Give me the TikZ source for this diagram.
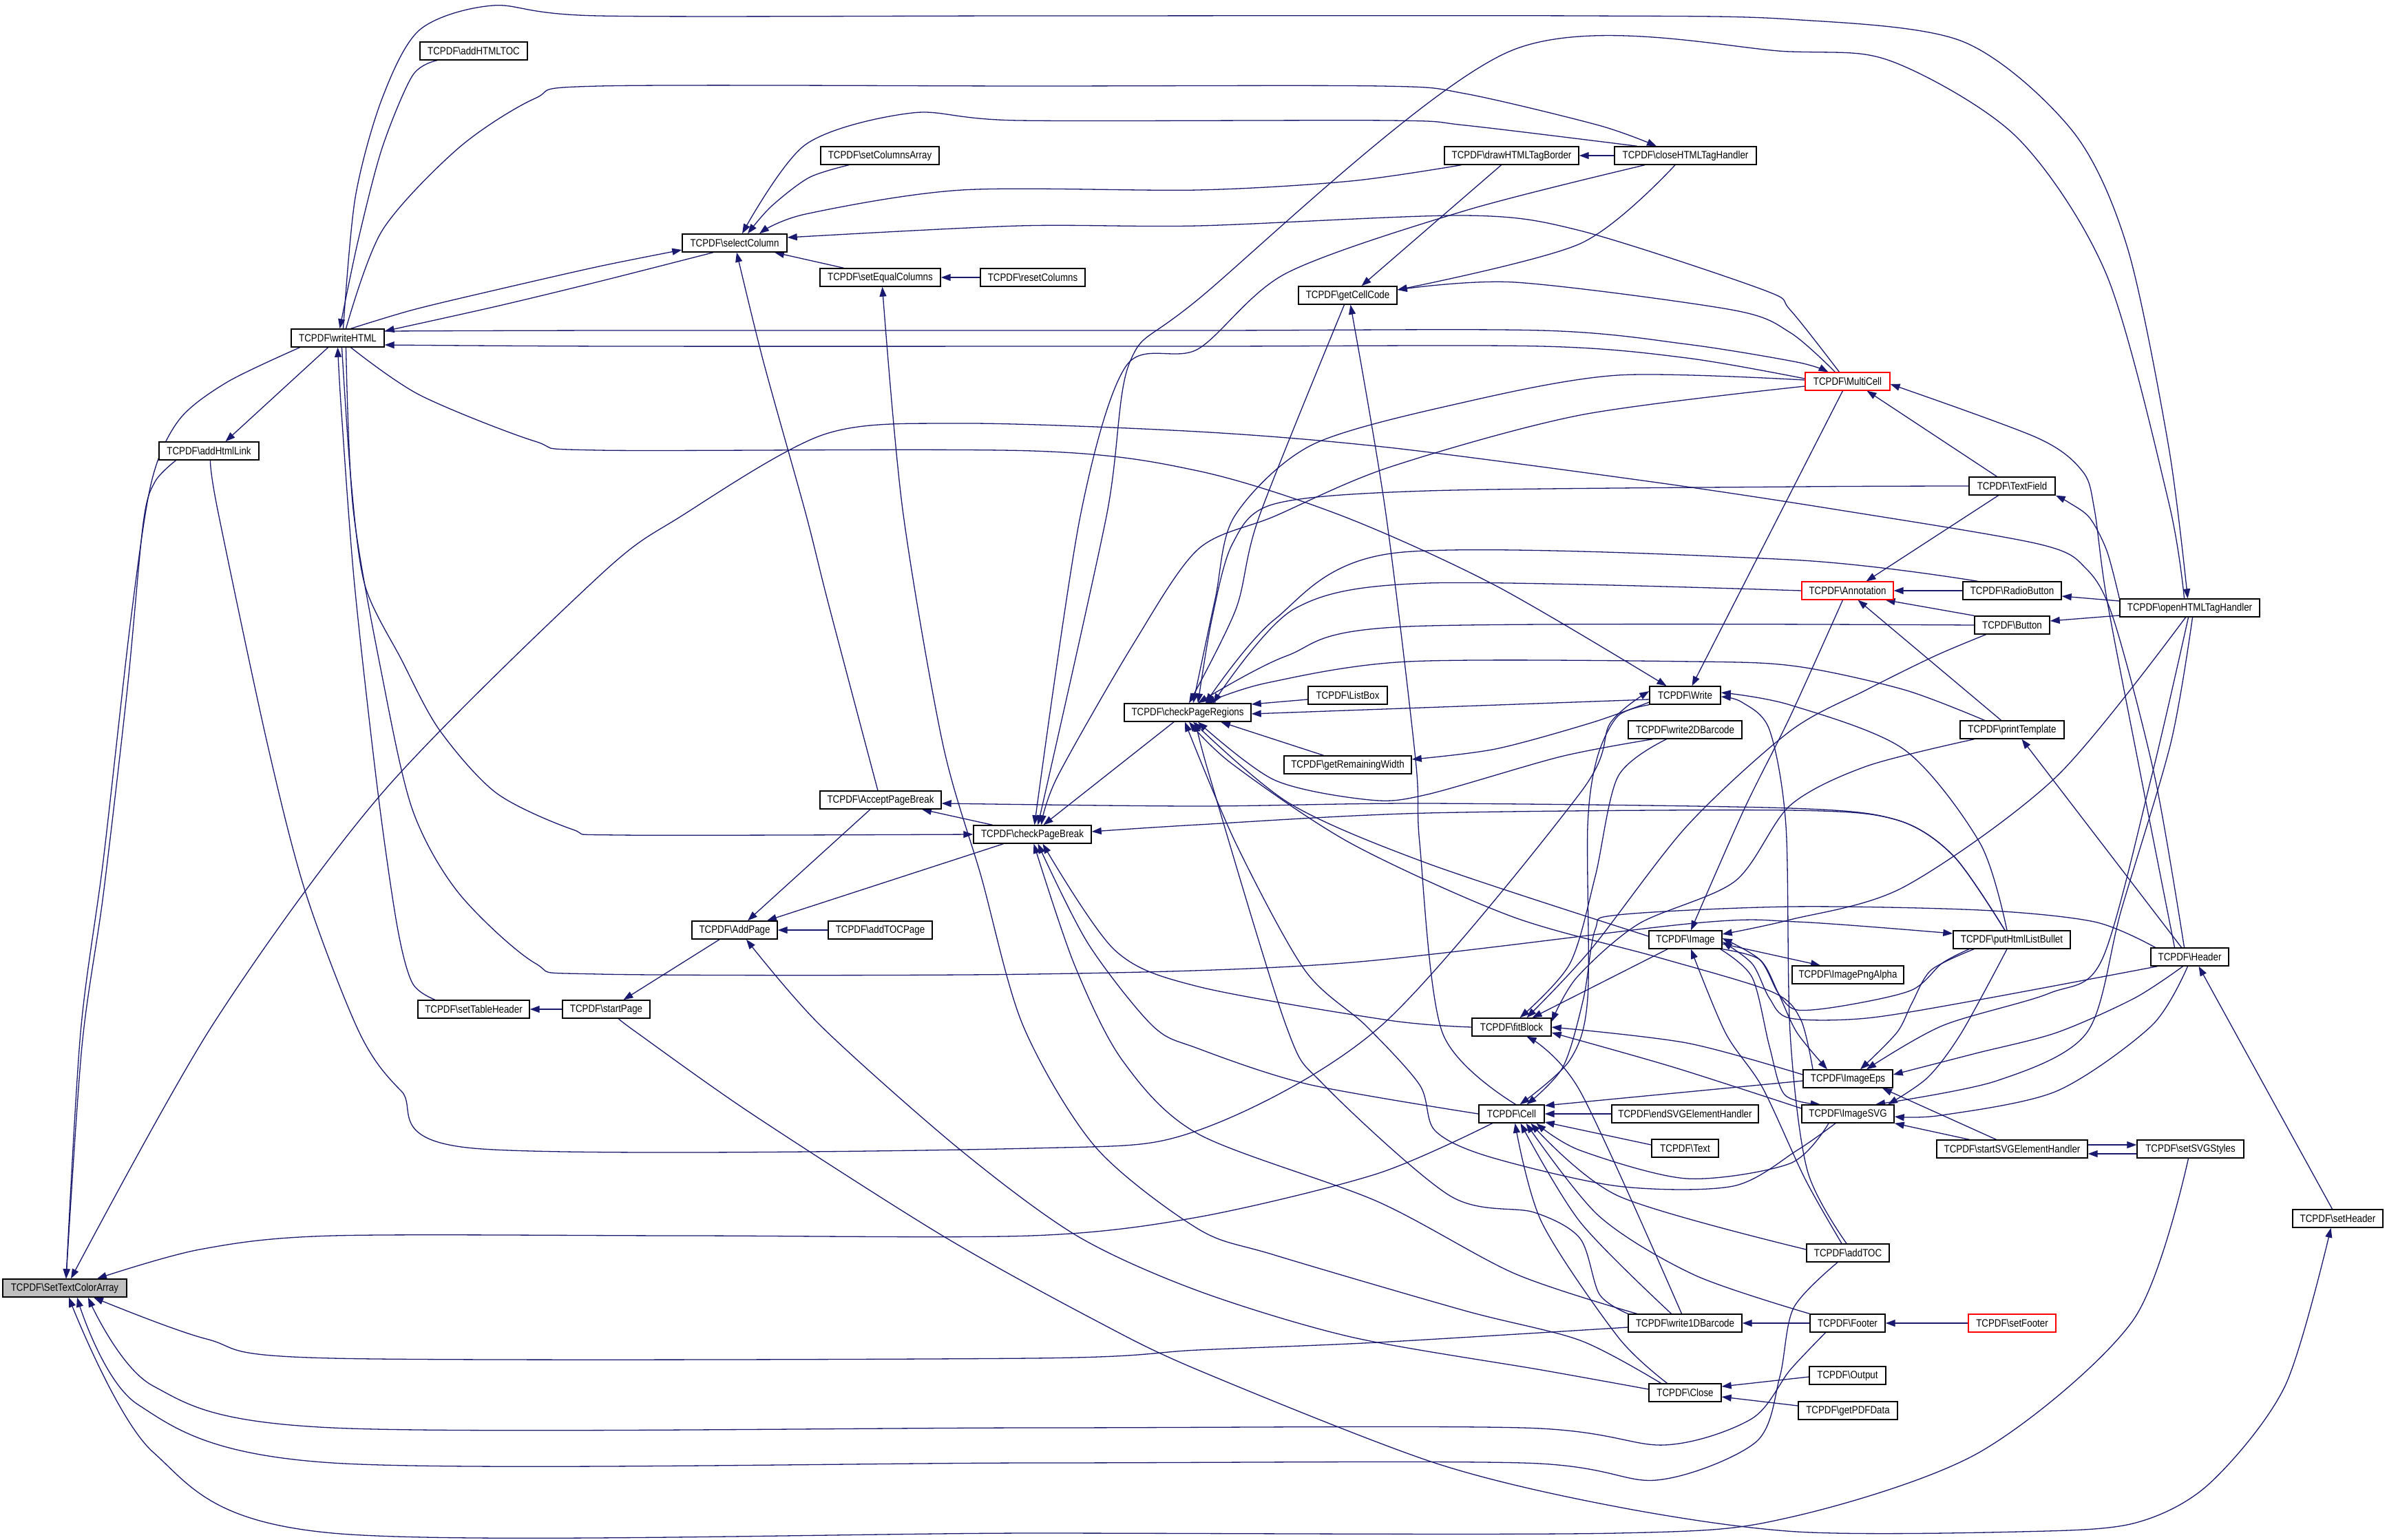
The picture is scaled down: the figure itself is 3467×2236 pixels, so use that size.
\documentclass[tikz,border=0pt]{standalone}
\usepackage{fontspec}
\setmainfont{Liberation Sans}[FakeStretch=0.86]
\usetikzlibrary{arrows.meta}
\definecolor{dblue}{HTML}{191970}
\definecolor{nodegray}{HTML}{BFBFBF}
\pgfdeclarelayer{back}
\pgfdeclarelayer{bg}
\pgfsetlayers{back,bg,main}
\newcommand\tcp[1]{TCPDF\textbackslash #1}
\begin{document}
\begin{tikzpicture}[x=1pt,y=-1pt,
 fn/.style={draw=black, line width=1.4pt, fill=white, minimum height=26pt, inner sep=0pt, font=\fontsize{15.5}{18}\selectfont},
 rn/.style={fn, draw=red, line width=1.1pt},
 e/.style={draw=dblue, line width=1.3pt, line join=round, -{Triangle[length=14pt,width=10pt]}}]
\useasboundingbox (0,0) rectangle (3467,2236);
\begin{pgfonlayer}{back}
\fill[white] (0,0) rectangle (3467,2236);
\end{pgfonlayer}
% nodes
\node[fn,fill=nodegray,minimum width=180pt] (stca) at (94,1871) {\tcp{SetTextColorArray}};
\node[fn,minimum width=135pt] (wh) at (490.5,491) {\tcp{writeHTML}};
\node[fn,minimum width=156pt] (ahtoc) at (688,74) {\tcp{addHTMLTOC}};
\node[fn,minimum width=145pt] (ahl) at (303.5,655) {\tcp{addHtmlLink}};
\node[fn,minimum width=152pt] (sc) at (1067,353) {\tcp{selectColumn}};
\node[fn,minimum width=172pt] (sca) at (1278,226) {\tcp{setColumnsArray}};
\node[fn,minimum width=175pt] (sec) at (1278.5,403) {\tcp{setEqualColumns}};
\node[fn,minimum width=152pt] (rc) at (1500,403) {\tcp{resetColumns}};
\node[fn,minimum width=195pt] (dhtb) at (2195.5,226) {\tcp{drawHTMLTagBorder}};
\node[fn,minimum width=206pt] (chth) at (2448,226) {\tcp{closeHTMLTagHandler}};
\node[fn,minimum width=143pt] (gcc) at (1957.5,429) {\tcp{getCellCode}};
\node[rn,minimum width=123pt] (mc) at (2683.5,554) {\tcp{MultiCell}};
\node[fn,minimum width=125pt] (tf) at (2922.5,706) {\tcp{TextField}};
\node[rn,minimum width=133pt] (ann) at (2683.5,858) {\tcp{Annotation}};
\node[fn,minimum width=143pt] (rb) at (2922.5,858) {\tcp{RadioButton}};
\node[fn,minimum width=203pt] (ohth) at (3180.5,883) {\tcp{openHTMLTagHandler}};
\node[fn,minimum width=109pt] (btn) at (2922.5,908) {\tcp{Button}};
\node[fn,minimum width=151pt] (pt) at (2922.5,1060) {\tcp{printTemplate}};
\node[fn,minimum width=184pt] (cpr) at (1725,1035) {\tcp{checkPageRegions}};
\node[fn,minimum width=115pt] (lb) at (1957.5,1010) {\tcp{ListBox}};
\node[fn,minimum width=185pt] (grw) at (1957.5,1111) {\tcp{getRemainingWidth}};
\node[fn,minimum width=103pt] (wr) at (2447.5,1010) {\tcp{Write}};
\node[fn,minimum width=165pt] (w2d) at (2447.5,1060) {\tcp{write2DBarcode}};
\node[fn,minimum width=176pt] (apb) at (1279,1162) {\tcp{AcceptPageBreak}};
\node[fn,minimum width=171pt] (cpb) at (1499.5,1212) {\tcp{checkPageBreak}};
\node[fn,minimum width=124pt] (ap) at (1067,1351) {\tcp{AddPage}};
\node[fn,minimum width=151pt] (atp) at (1278.5,1351) {\tcp{addTOCPage}};
\node[fn,minimum width=162pt] (sth) at (688,1466) {\tcp{setTableHeader}};
\node[fn,minimum width=127pt] (sp) at (880.5,1466) {\tcp{startPage}};
\node[fn,minimum width=106pt] (img) at (2448,1365) {\tcp{Image}};
\node[fn,minimum width=162pt] (ipa) at (2684,1416) {\tcp{ImagePngAlpha}};
\node[fn,minimum width=170pt] (phlb) at (2922,1365) {\tcp{putHtmlListBullet}};
\node[fn,minimum width=113pt] (hdr) at (3180.5,1390) {\tcp{Header}};
\node[fn,minimum width=115pt] (fb) at (2195.5,1492) {\tcp{fitBlock}};
\node[fn,minimum width=95pt] (cell) at (2195.5,1618) {\tcp{Cell}};
\node[fn,minimum width=213pt] (esvg) at (2447.5,1618) {\tcp{endSVGElementHandler}};
\node[fn,minimum width=97pt] (txt) at (2447.5,1668) {\tcp{Text}};
\node[fn,minimum width=130pt] (ieps) at (2684,1567) {\tcp{ImageEps}};
\node[fn,minimum width=134pt] (isvg) at (2684,1618) {\tcp{ImageSVG}};
\node[fn,minimum width=219pt] (ssvg) at (2922.5,1669) {\tcp{startSVGElementHandler}};
\node[fn,minimum width=155pt] (sss) at (3181.5,1669) {\tcp{setSVGStyles}};
\node[fn,minimum width=131pt] (shdr) at (3395.5,1770) {\tcp{setHeader}};
\node[fn,minimum width=120pt] (atoc) at (2684,1820) {\tcp{addTOC}};
\node[fn,minimum width=165pt] (w1d) at (2447.5,1922) {\tcp{write1DBarcode}};
\node[fn,minimum width=109pt] (ftr) at (2683.5,1922) {\tcp{Footer}};
\node[rn,minimum width=127pt] (sftr) at (2922.5,1922) {\tcp{setFooter}};
\node[fn,minimum width=105pt] (cls) at (2447.5,2023) {\tcp{Close}};
\node[fn,minimum width=111pt] (out) at (2683.5,1998) {\tcp{Output}};
\node[fn,minimum width=144pt] (gpd) at (2684,2049) {\tcp{getPDFData}};
% edges
\begin{pgfonlayer}{bg}
\draw[e] plot[smooth] coordinates {([xshift=-55pt]wh.south) (330,555) (260,610) (220,700) (190,900) (150,1250) (117,1500) ([xshift=2pt]stca.north)};
\draw[e] plot[smooth] coordinates {([xshift=-48pt]ahl.south) (225,700) (208,760) (185,1000) (150,1300) (119,1520) ([xshift=2pt]stca.north)};
\draw[e] plot[smooth] coordinates {([xshift=-8pt]hdr.north) (3130,1130) (3070,900) (3030,826) (2960,790) (2666,740) (2400,700) (2017,650) (1740,627) (1397,615) (1197,631) (989,750) (870,837) (555,1152) (308,1490) ([xshift=9pt]stca.north)};
\draw[e] plot[smooth] coordinates {([xshift=-28pt]cell.south) (2000,1705) (1740,1768) (1497,1795) (1000,1795) (483,1795) (290,1815) ([xshift=47pt]stca.north)};
\draw[e] plot[smooth] coordinates {([yshift=-6pt]w1d.west) (2000,1950) (1740,1961) (1497,1973) (483,1973) (300,1945) ([xshift=42pt]stca.south)};
\draw[e] plot[smooth] coordinates {([xshift=-32pt]ftr.south) (2600,1990) (2544,2061) (2417,2099) (2212,2074) (1500,2074) (483,2074) (222,2013) ([xshift=34pt]stca.south)};
\draw[e] plot[smooth] coordinates {([xshift=-15pt]atoc.south) (2605,1900) (2585,2000) (2550,2095) (2406,2150) (2212,2125) (1500,2125) (483,2125) (200,2040) ([xshift=18pt]stca.south)};
\draw[e] plot[smooth] coordinates {([xshift=-3pt]sss.south) (3098,1918) (2876,2109) (2600,2204) (2350,2227) (1500,2227) (483,2227) (222,2109) ([xshift=6pt]stca.south)};
\draw[e] ([xshift=-14pt]wh.south) -- ([xshift=24pt]ahl.north);
\draw[e] plot[smooth] coordinates {([xshift=-53pt]ahtoc.south) (599,110) (555,215) (520,350) ([xshift=3pt]wh.north)};
\draw[e] plot[smooth] coordinates {([xshift=8pt]wh.north) (516,287) (555,143) (610,43) (716,8) (870,23) (1500,23) (2300,23) (2600,28) (2850,60) (3010,190) (3090,360) (3150,650) ([xshift=-3pt]ohth.north)};
\draw[e] plot[smooth] coordinates {([xshift=12pt]wh.north) (555,335) (666,215) (777,143) (870,125) (1500,125) (2006,125) (2128,136) (2322,182) ([xshift=-42pt]chth.north)};
\draw[e] plot[smooth] coordinates {([xshift=19pt]wh.north) (600,450) (721,421) (870,387) ([yshift=-10pt]sc.west)};
\draw[e] plot[smooth] coordinates {([xshift=-31pt]sc.south) (870,409) (721,445) ([yshift=10pt]wh.east)};
\draw[e] plot[smooth] coordinates {([yshift=10pt]wh.east) (900,480) (1740,480) (2239,480) (2450,500) (2610,526) ([xshift=-28pt]mc.north)};
\draw[e] plot[smooth] coordinates {([yshift=4pt]mc.west) (2450,520) (2239,503) (1740,503) (900,503) ([yshift=-10pt]wh.east)};
\draw[e] plot[smooth] coordinates {([xshift=19pt]wh.south) (610,574) (777,641) (870,654) (1500,655) (1740,684) (1951,750) (2173,851) ([xshift=-27pt]wr.north)};
\draw[e] plot[smooth] coordinates {([xshift=6pt]wh.south) (510,700) (530,850) (583,958) (638,1060) (721,1152) (832,1205) (900,1213) (cpb.west)};
\draw[e] plot[smooth] coordinates {([xshift=-56pt]sth.north) (599,1428) (577,1346) (549,1152) (515,850) (496,600) (wh.south)};
\draw[e] plot[smooth] coordinates {([xshift=12pt]wh.south) (513,740) (555,982) (599,1176) (666,1297) (777,1399) (870,1415) (1500,1415) (1951,1399) (2461,1341) (2610,1339) ([yshift=9pt]phlb.west)};
\draw[e] (sp.west) -- (sth.east);
\draw[e] ([xshift=-22pt]ap.south) -- ([xshift=25pt]sp.north);
\draw[e] plot[smooth] coordinates {([xshift=18pt]sp.south) (925,1500) (1092,1618) (1369,1795) (1591,1918) (1740,1990) (2084,2125) (2350,2189) (2610,2225) (2932,2225) (3098,2213) (3208,2156) (3319,2013) ([xshift=-10pt]shdr.south)};
\draw[e] ([xshift=-15pt]apb.south) -- ([xshift=19pt]ap.north);
\draw[e] ([xshift=-42pt]cpb.south) -- ([xshift=47pt]ap.north);
\draw[e] ([xshift=-58pt]cpb.north) -- ([xshift=60pt]apb.south);
\draw[e] (atp.west) -- (ap.east);
\draw[e] plot[smooth] coordinates {([yshift=5pt]cls.west) (2239,1990) (1962,1942) (1740,1875) (1564,1795) (1392,1668) (1192,1490) ([xshift=17pt]ap.south)};
\draw[e] plot[smooth] coordinates {([xshift=-4pt]apb.north) (1203,876) (1170,745) (1109,526) ([xshift=3pt]sc.south)};
\draw[e] ([xshift=-53pt]sec.north) -- ([xshift=58pt]sc.south);
\draw[e] (rc.west) -- (sec.east);
\draw[e] plot[smooth] coordinates {([xshift=-45pt]sca.south) (1175,258) (1120,300) ([xshift=19pt]sc.north)};
\draw[e] plot[smooth] coordinates {([xshift=-70pt]chth.north) (2128,182) (2017,175) (1480,175) (1325,164) (1170,210) ([xshift=11pt]sc.north)};
\draw[e] plot[smooth] coordinates {([xshift=-73pt]dhtb.south) (1962,263) (1740,276) (1397,276) (1170,311) ([xshift=36pt]sc.north)};
\draw[e] plot[smooth] coordinates {([xshift=-12pt]mc.north) (2600,450) (2561,421) (2295,335) (2128,313) (1740,328) (1480,328) ([yshift=8pt]sc.east)};
\draw[e] (chth.west) -- (dhtb.east);
\draw[e] ([xshift=-15pt]dhtb.south) -- ([xshift=20pt]gcc.north);
\draw[e] plot[smooth] coordinates {([xshift=-15pt]chth.south) (2295,354) ([yshift=8pt]gcc.east)};
\draw[e] plot[smooth] coordinates {([xshift=-18pt]mc.north) (2600,483) (2515,450) (2200,410) ([yshift=8pt]gcc.east)};
\draw[e] plot[smooth] coordinates {([xshift=-59pt]chth.south) (2128,306) (1868,397) (1740,507) (1636,531) (1569,750) ([xshift=3pt]cpb.north)};
\draw[e] plot[smooth] coordinates {([xshift=-8pt]ohth.north) (3150,730) (3060,400) (2930,200) (2750,90) (2600,75) (2194,74) (1740,435) (1641,526) (1607,750) ([xshift=8pt]cpb.north)};
\draw[e] ([xshift=-20pt]cpr.south) -- ([xshift=16pt]cpb.north);
\draw[e] plot[smooth] coordinates {([yshift=-7pt]mc.west) (2295,603) (2017,679) (1851,750) (1740,798) (1647,934) (1536,1128) ([xshift=13pt]cpb.north)};
\draw[e] plot[smooth] coordinates {([yshift=2pt]mc.west) (2350,545) (2128,584) (1906,646) (1793,750) (1765,870) ([xshift=8pt]cpr.north)};
\draw[e] (rb.west) -- (ann.east);
\draw[e] (btn.north west) -- ([xshift=55pt]ann.south);
\draw[e] ([xshift=-20pt]tf.south) -- ([xshift=27pt]ann.north);
\draw[e] ([xshift=-16pt]pt.north) -- ([xshift=15pt]ann.south);
\draw[e] ([yshift=10pt]ohth.west) -- ([yshift=-8pt]rb.east);
\draw[e] ([yshift=-11pt]ohth.west) -- ([yshift=6pt]btn.east);
\draw[e] ([xshift=-22pt]tf.north) -- ([xshift=28pt]mc.south);
\draw[e] plot[smooth] coordinates {(ohth.north west) (3060,800) (3035,752) (3005,730) (tf.south east)};
\draw[e] plot[smooth] coordinates {([xshift=-22pt]hdr.north) (3110,1130) (3060,870) (3042,740) (3025,685) (2959,636) ([yshift=-4pt]mc.east)};
\draw[e] ([xshift=-7pt]mc.south) -- ([xshift=10pt]wr.north);
\draw[e] plot[smooth] coordinates {(tf.west) (2610,707) (2073,713) (1851,732) (1790,790) (1760,900) ([xshift=15pt]cpr.north)};
\draw[e] plot[smooth] coordinates {([xshift=-50pt]rb.north) (2600,813) (2028,803) (1851,900) ([xshift=26pt]cpr.north)};
\draw[e] plot[smooth] coordinates {(ann.west) (2073,847) (1879,885) ([xshift=37pt]cpr.north)};
\draw[e] plot[smooth] coordinates {(btn.west) (2045,910) (1868,953) ([xshift=15pt]cpr.north)};
\draw[e] plot[smooth] coordinates {([xshift=-40pt]pt.north) (2766,1002) (2610,968) (2461,961) (2045,961) (1840,992) ([xshift=26pt]cpr.north)};
\draw[e] ([yshift=-6pt]lb.west) -- ([yshift=12pt]cpr.east);
\draw[e] ([yshift=-6pt]wr.west) -- ([yshift=-2pt]cpr.east);
\draw[e] ([xshift=-35pt]grw.north) -- ([xshift=48pt]cpr.south);
\draw[e] plot[smooth] coordinates {([yshift=-10pt]wr.west) (2311,1050) (2172,1088) ([yshift=8pt]grw.east)};
\draw[e] plot[smooth] coordinates {([xshift=-47pt]w2d.south) (2267,1099) (2073,1154) (1990,1162) (1851,1133) ([xshift=15pt]cpr.south)};
\draw[e] plot[smooth] coordinates {([yshift=5pt]img.west) (2073,1254) (1873,1167) ([xshift=8pt]cpr.south)};
\draw[e] plot[smooth] coordinates {([xshift=-51pt]ieps.north) (2615,1480) (2572,1440) (2406,1390) (2195,1331) (1962,1225) (1790,1110) ([xshift=2pt]cpr.south)};
\draw[e] plot[smooth] coordinates {([xshift=-18pt]isvg.south) (2610,1671) (2517,1723) (2350,1723) (2162,1680) (2084,1642) (2062,1576) (1984,1490) (1895,1409) (1795,1225) ([xshift=-4pt]cpr.south)};
\draw[e] plot[smooth] coordinates {(w1d.north west) (2323,1880) (2295,1799) (2228,1761) (2106,1737) (1923,1576) (1868,1490) (1757,1128) ([xshift=12pt]cpr.south)};
\draw[e] plot[smooth] coordinates {(wr.south west) (2350,1040) (2320,1100) (2306,1200) (2306,1450) (2280,1540) ([xshift=12pt]cell.north)};
\draw[e] plot[smooth] coordinates {([xshift=-27pt]w2d.south) (2350,1128) (2317,1273) (2280,1400) ([xshift=12pt]fb.north)};
\draw[e] plot[smooth] coordinates {([xshift=-38pt]btn.south) (2810,953) (2711,1002) (2600,1062) (2450,1200) (2310,1380) ([xshift=22pt]fb.north)};
\draw[e] ([yshift=-3pt]ieps.west) -- ([yshift=12pt]cell.east);
\draw[e] (esvg.west) -- (cell.east);
\draw[e] ([yshift=5pt]txt.west) -- ([yshift=-12pt]cell.east);
\draw[e] plot[smooth] coordinates {([xshift=-26pt]cls.north) (2350,1942) (2239,1775) ([xshift=5pt]cell.south)};
\draw[e] plot[smooth] coordinates {([xshift=-20pt]w1d.north) (2295,1775) ([xshift=13pt]cell.south)};
\draw[e] plot[smooth] coordinates {(ftr.north west) (2461,1852) (2322,1766) ([xshift=21pt]cell.south)};
\draw[e] plot[smooth] coordinates {([yshift=5pt]atoc.west) (2350,1737) ([xshift=28pt]cell.south)};
\draw[e] plot[smooth] coordinates {([xshift=-28pt]isvg.south) (2600,1690) (2450,1712) (2295,1671) ([xshift=36pt]cell.south)};
\draw[e] plot[smooth] coordinates {([xshift=6pt]cell.north) (2095,1500) (2062,1225) (2056,1103) (2012,740) ([xshift=4pt]gcc.south)};
\draw[e] plot[smooth] coordinates {(cell.west) (1900,1575) (1740,1523) (1674,1490) (1580,1370) ([xshift=8pt]cpb.south)};
\draw[e] plot[smooth] coordinates {(fb.west) (2017,1482) (1740,1433) (1619,1380) ([xshift=15pt]cpb.south)};
\draw[e] plot[smooth] coordinates {([xshift=-70pt]w1d.north) (2200,1850) (2000,1745) (1740,1647) (1630,1540) (1560,1400) ([xshift=2pt]cpb.south)};
\draw[e] plot[smooth] coordinates {([xshift=-5pt]w1d.north) (2295,1585) ([xshift=22pt]fb.south)};
\draw[e] (ftr.west) -- (w1d.east);
\draw[e] (sftr.west) -- (ftr.east);
\draw[e] ([yshift=-2pt]out.west) -- ([yshift=9pt]cls.east);
\draw[e] ([yshift=7pt]gpd.west) -- ([yshift=-6pt]cls.east);
\draw[e] plot[smooth] coordinates {([xshift=-35pt]cls.north) (2295,1947) (2128,1904) (1851,1823) (1740,1785) (1591,1666) (1486,1490) (1425,1273) (1369,1079) (1311,740) ([xshift=3pt]sec.south)};
\draw[e] plot[smooth] coordinates {([xshift=-9pt]atoc.north) (2622,1713) (2560,1580) (2506,1500) ([xshift=8pt]img.south)};
\draw[e] plot[smooth] coordinates {([xshift=-2pt]atoc.north) (2625,1700) (2600,1500) (2594,1200) (2570,1060) (2530,1020) ([yshift=-2pt]wr.east)};
\draw[e] plot[smooth] coordinates {([xshift=-7pt]phlb.north) (2876,1225) (2766,1089) (2600,1024) ([yshift=4pt]wr.east)};
\draw[e] plot[smooth] coordinates {([xshift=-10pt]phlb.north) (2838,1244) (2755,1191) (2600,1174) (2073,1167) (1740,1171) ([yshift=-5pt]apb.east)};
\draw[e] plot[smooth] coordinates {([xshift=-10pt]phlb.north) (2838,1244) (2755,1191) (2600,1177) (2073,1181) (1740,1198) ([yshift=4pt]cpb.east)};
\draw[e] ([yshift=-6pt]img.east) -- ([xshift=-40pt]ipa.north);
\draw[e] ([xshift=-26pt]img.south) -- ([xshift=30pt]fb.north);
\draw[e] plot[smooth] coordinates {(img.south east) (2556,1394) (2583,1443) (2610,1500) ([xshift=-30pt]ieps.north)};
\draw[e] plot[smooth] coordinates {([xshift=-3pt]img.south east) (2545,1420) (2570,1520) (2592,1590) ([xshift=-40pt]isvg.north)};
\draw[e] plot[smooth] coordinates {([xshift=-6pt]ohth.south) (2987,1128) (2766,1288) (2600,1336) ([yshift=8pt]img.east)};
\draw[e] plot[smooth] coordinates {([xshift=-62pt]phlb.south) (2821,1399) (2777,1438) (2683,1460) (2610,1467) (2583,1443) (2556,1394) ([yshift=2pt]img.east)};
\draw[e] plot[smooth] coordinates {([xshift=-47pt]hdr.south) (2876,1452) (2711,1479) (2600,1479) (2570,1450) (2545,1400) ([yshift=-3pt]img.east)};
\draw[e] plot[smooth] coordinates {([xshift=-2pt]ohth.south) (3125,1128) (3053,1394) (2976,1443) (2821,1490) ([xshift=27pt]ieps.north)};
\draw[e] plot[smooth] coordinates {([xshift=4pt]ohth.south) (3153,1079) (3081,1322) (3031,1500) (2900,1570) ([xshift=40pt]isvg.north)};
\draw[e] plot[smooth] coordinates {([xshift=-10pt]hdr.south) (3100,1450) (2987,1500) (2870,1530) ([yshift=6pt]ieps.east)};
\draw[e] plot[smooth] coordinates {([xshift=-3pt]hdr.south) (3125,1490) (2987,1585) (2820,1620) ([yshift=-4pt]isvg.east)};
\draw[e] plot[smooth] coordinates {([xshift=-55pt]phlb.south) (2805,1409) (2777,1457) (2755,1500) ([xshift=18pt]ieps.north)};
\draw[e] plot[smooth] coordinates {([xshift=-7pt]phlb.south) (2849,1500) (2800,1565) ([xshift=58pt]isvg.north)};
\draw[e] ([xshift=-23pt]ssvg.north) -- ([xshift=50pt]ieps.south);
\draw[e] ([xshift=-62pt]ssvg.north) -- (isvg.south east);
\draw[e] ([yshift=6pt]ssvg.east) -- ([yshift=6pt]sss.west);
\draw[e] ([yshift=-7pt]sss.west) -- ([yshift=-7pt]ssvg.east);
\draw[e] ([xshift=-8pt]shdr.north) -- ([xshift=13pt]hdr.south);
\draw[e] plot[smooth] coordinates {([xshift=-50pt]hdr.north) (3042,1339) (2876,1322) (2600,1317) (2350,1329) (2317,1350) (2300,1450) (2270,1550) ([xshift=22pt]cell.north)};
\draw[e] plot[smooth] coordinates {([xshift=-55pt]pt.south) (2711,1113) (2600,1170) (2520,1280) (2380,1342) (2290,1420) ([yshift=8pt]fb.east)};
\draw[e] plot[smooth] coordinates {([yshift=8pt]isvg.west) (2430,1550) ([yshift=-8pt]fb.east)};
\draw[e] plot[smooth] coordinates {([yshift=6pt]ieps.west) (2450,1515) (fb.east)};
\draw[e] plot[smooth] coordinates {([xshift=2pt]ahl.south) (316,740) (388,1079) (444,1297) (522,1500) (583,1585) (688,1668) (1497,1668) (1740,1642) (2006,1490) (2295,1152) (2339,1050) ([yshift=6pt]wr.west)};
\draw[e] plot[smooth] coordinates {([xshift=-5pt]gcc.south) (1829,750) (1795,885) ([xshift=2pt]cpr.north)};
\draw[e] plot[smooth] coordinates {([xshift=-7pt]ann.south) (2600,1041) (2533,1176) ([xshift=8pt]img.north)};
\draw[e] ([xshift=-12pt]hdr.north) -- ([xshift=14pt]pt.south);
\end{pgfonlayer}
\end{tikzpicture}
\end{document}
